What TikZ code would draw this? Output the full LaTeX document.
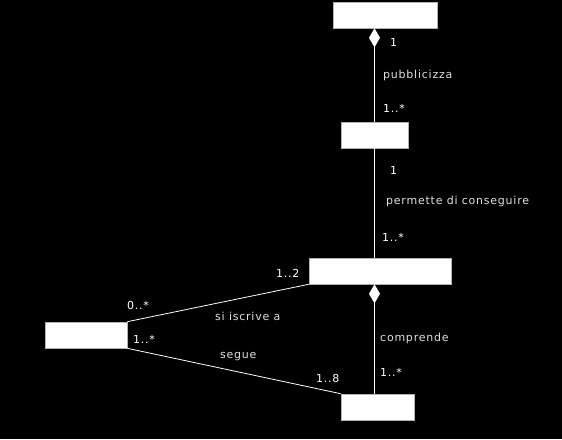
\documentclass[tikz,border=0pt]{standalone}
\usepackage{fontspec}
\setmainfont{DejaVu Sans}
\newfontfamily\umlfont[LetterSpace=7]{DejaVu Sans}
\usetikzlibrary{arrows.meta}

\tikzset{
  classe/.style={draw=gray!60, line width=0.6pt, fill=white, minimum height=26pt, inner sep=0pt},
  assoc/.style={draw=white, line width=0.8pt},
  molt/.style={text=white, anchor=west, inner sep=0pt, font=\umlfont\fontsize{11}{13}\selectfont},
  nome/.style={text=white!88!black, anchor=west, inner sep=0pt, font=\umlfont\fontsize{11}{13}\selectfont},
  comp/.style={{Diamond[width=11pt,length=19pt,fill=white]}-}
}

\begin{document}
\begin{tikzpicture}[x=1pt, y=-1pt]
%%%%% Background %%%%%
\fill[black] (0,0) rectangle (562,439);
\useasboundingbox (0,0) rectangle (562,439);
%%%%% Classes %%%%%
\node[classe, minimum width=104pt] (universita) at (385,15) {};
\node[classe, minimum width=67pt] (corso) at (374.5,135) {};
\node[classe, minimum width=142pt] (laurea) at (380,271) {};
\node[classe, minimum width=82pt] (studente) at (86,335) {};
\node[classe, minimum width=73pt] (esame) at (377.5,407) {};
%%%%% Associations %%%%%
\draw[assoc, comp] (corso |- universita.south) -- (corso.north);
\draw[assoc] (corso.south) -- (corso |- laurea.north);
\draw[assoc, comp] (corso |- laurea.south) -- (corso |- esame.north);
\draw[assoc] (studente.north east) -- (laurea.south west);
\draw[assoc] (studente.south east) -- (esame.north west);
%%%%% Labels %%%%%
\node[molt] at (390,42) {1};
\node[nome] at (383,75) {pubblicizza};
\node[molt] at (383,108) {1..*};
\node[molt] at (390,170) {1};
\node[nome] at (386,201) {permette di conseguire};
\node[molt] at (382,237) {1..*};
\node[molt] at (276,273) {1..2};
\node[molt] at (127,305) {0..*};
\node[nome] at (215,316) {si iscrive a};
\node[molt] at (133,339) {1..*};
\node[nome] at (220,357) {segue};
\node[molt] at (316,378) {1..8};
\node[nome] at (380,338) {comprende};
\node[molt] at (380,372) {1..*};
\end{tikzpicture}
\end{document}
